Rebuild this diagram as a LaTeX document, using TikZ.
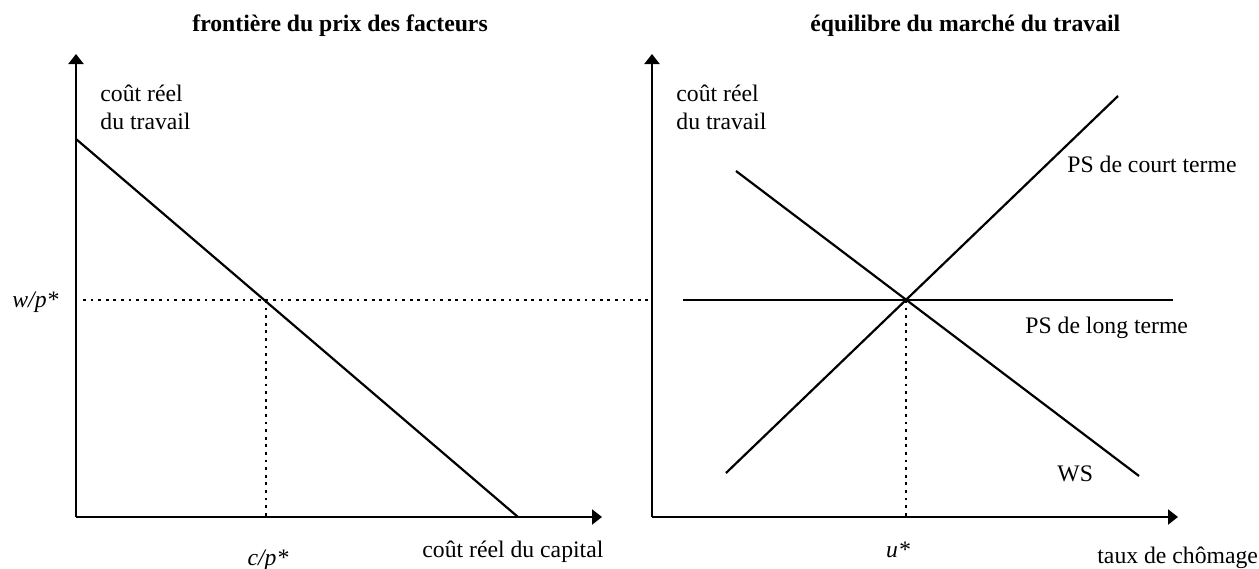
\documentclass[tikz,border=0pt]{standalone}
\usepackage{fontspec}
\setmainfont{Liberation Serif}
\usetikzlibrary{arrows.meta}
\begin{document}
\begin{tikzpicture}[x=0.5pt,y=-0.5pt,
  axis/.style={line width=1.1pt,-{Triangle[length=5pt,width=7.5pt]}},
  curve/.style={line width=1.1pt},
  guide/.style={line width=1pt,dash pattern=on 1.4pt off 2.4pt},
  lbl/.style={inner sep=0pt,font=\fontsize{11.85}{14}\selectfont},
  ttl/.style={inner sep=0pt,font=\fontsize{11.85}{14}\selectfont\bfseries}]
\useasboundingbox (0,0) rectangle (1259,568);
% left panel coordinates
\coordinate (LO) at (76,517);
\coordinate (LY) at (76,54);
\coordinate (LX) at (602,517);
\coordinate (F1) at (76,139);
\coordinate (F2) at (518,517);
\coordinate (LE) at (266,300);
\coordinate (LEx) at (266,517);
\coordinate (Hs) at (83,300);
\coordinate (He) at (652,300);
% right panel coordinates
\coordinate (RO) at (652,517);
\coordinate (RY) at (652,54);
\coordinate (RX) at (1178,517);
\coordinate (PL1) at (683,300);
\coordinate (PL2) at (1173,300);
\coordinate (PC1) at (726,473);
\coordinate (PC2) at (1118,96);
\coordinate (W1) at (736,171);
\coordinate (W2) at (1139,476);
\coordinate (RE) at (906,300);
\coordinate (REx) at (906,517);
% titles
\node[ttl,anchor=base west] (t1) at (192,31) {frontière du prix des facteurs};
\node[ttl,anchor=base west] (t2) at (810,31) {équilibre du marché du travail};
% left panel
\draw[guide] (Hs) -- (He);
\draw[guide] (LE) -- (LEx);
\draw[axis] (LO) -- (LY);
\draw[axis] (LO) -- (LX);
\draw[curve] (F1) -- (F2);
\node[lbl,anchor=base west] (ly1) at (100,101) {coût réel};
\node[lbl,anchor=base west] (ly2) at (100,129) {du travail};
\node[lbl,anchor=base west] (wp) at (12,307) {\itshape w/p*};
\node[lbl,anchor=base] (cp) at (268,565) {\itshape c/p*};
\node[lbl,anchor=base west] (lx) at (422,557) {coût réel du capital};
% right panel
\draw[guide] (RE) -- (REx);
\draw[axis] (RO) -- (RY);
\draw[axis] (RO) -- (RX);
\draw[curve] (PL1) -- (PL2);
\draw[curve] (PC1) -- (PC2);
\draw[curve] (W1) -- (W2);
\node[lbl,anchor=base west] (ry1) at (676,101) {coût réel};
\node[lbl,anchor=base west] (ry2) at (676,129) {du travail};
\node[lbl,anchor=base west] (psc) at (1067,172) {PS de court terme};
\node[lbl,anchor=base west] (psl) at (1025,333) {PS de long terme};
\node[lbl,anchor=base west] (ws) at (1057,481) {WS};
\node[lbl,anchor=base] (us) at (898,557) {\itshape u*};
\node[lbl,anchor=base west] (rx) at (1097,563) {taux de chômage};
\end{tikzpicture}
\end{document}
